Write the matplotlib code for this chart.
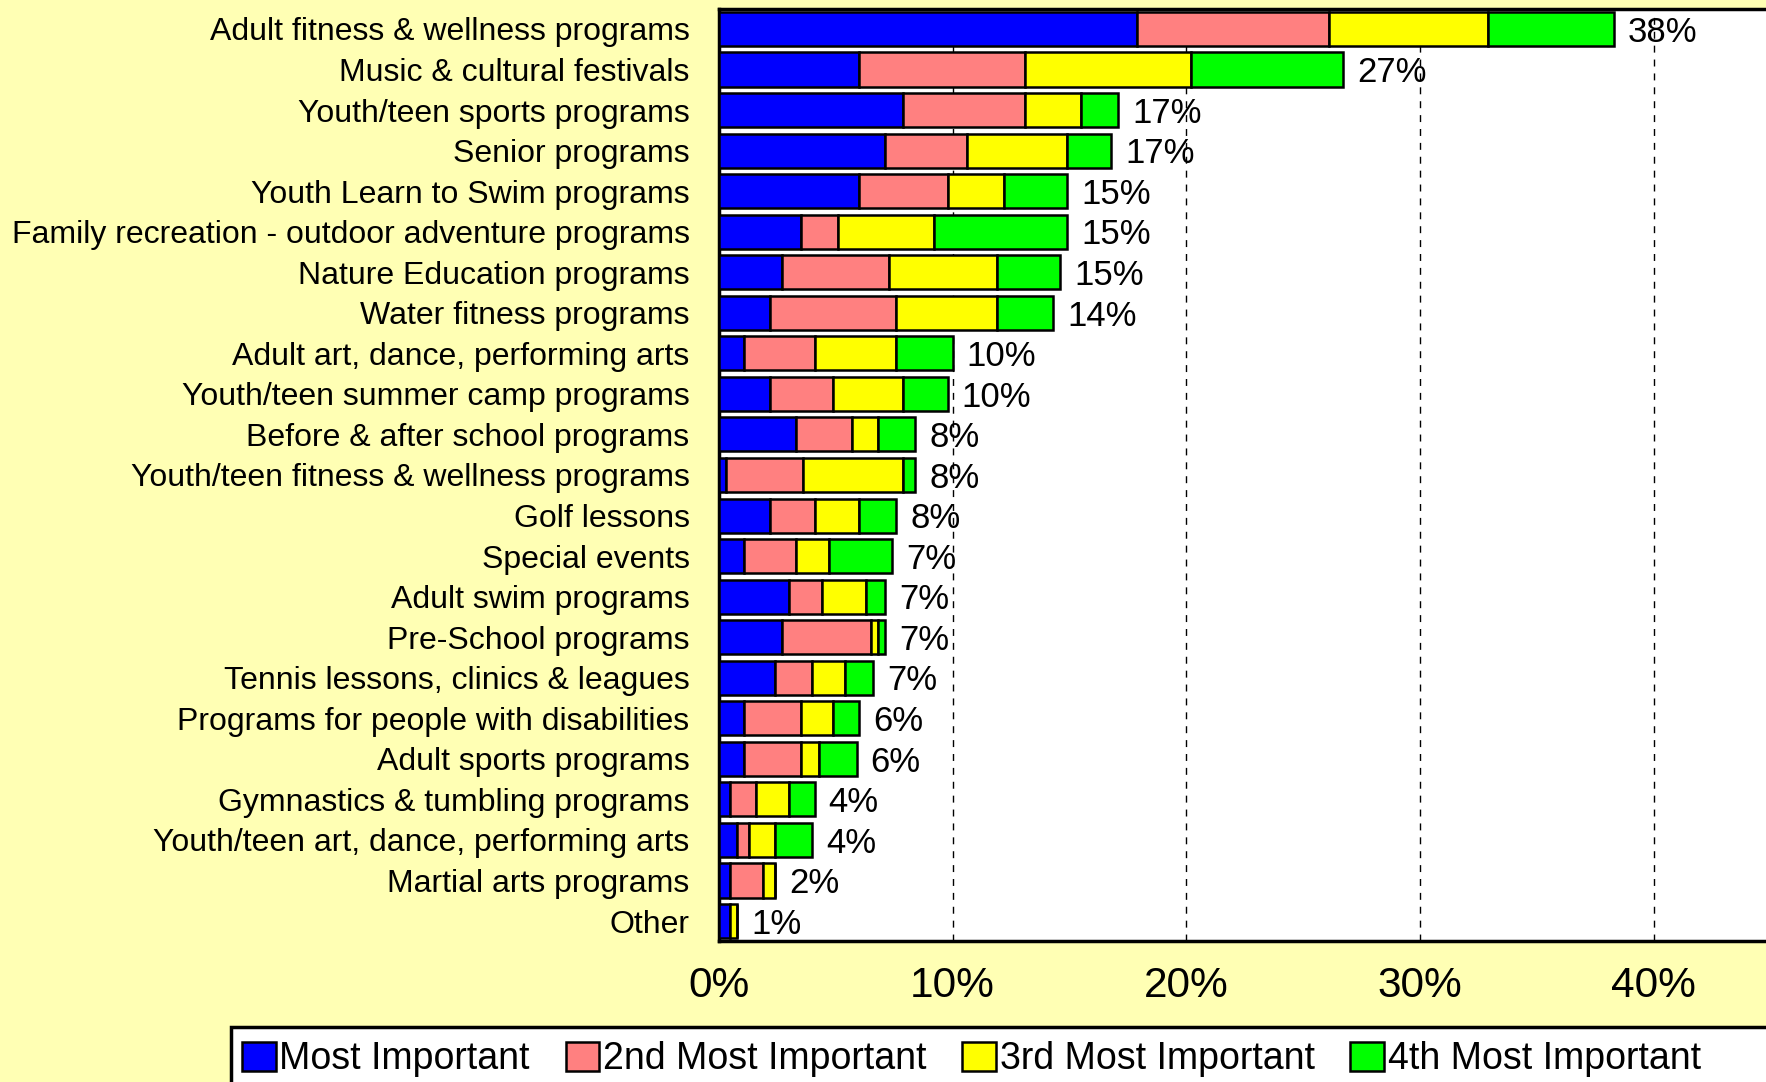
import numpy as np
import matplotlib.pyplot as plt
from matplotlib.patches import Rectangle

plt.rcParams['font.family'] = ['Liberation Sans', 'DejaVu Sans']

categories = [
    "Adult fitness & wellness programs",
    "Music & cultural festivals",
    "Youth/teen sports programs",
    "Senior programs",
    "Youth Learn to Swim programs",
    "Family recreation - outdoor adventure programs",
    "Nature Education programs",
    "Water fitness programs",
    "Adult art, dance, performing arts",
    "Youth/teen summer camp programs",
    "Before & after school programs",
    "Youth/teen fitness & wellness programs",
    "Golf lessons",
    "Special events",
    "Adult swim programs",
    "Pre-School programs",
    "Tennis lessons, clinics & leagues",
    "Programs for people with disabilities",
    "Adult sports programs",
    "Gymnastics & tumbling programs",
    "Youth/teen art, dance, performing arts",
    "Martial arts programs",
    "Other",
]
most = [17.9, 6.0, 7.9, 7.1, 6.0, 3.5, 2.7, 2.2, 1.1, 2.2, 3.3, 0.3, 2.2, 1.1, 3.0, 2.7, 2.4, 1.1, 1.1, 0.5, 0.8, 0.5, 0.5]
second = [8.2, 7.1, 5.2, 3.5, 3.8, 1.6, 4.6, 5.4, 3.0, 2.7, 2.4, 3.3, 1.9, 2.2, 1.4, 3.8, 1.6, 2.4, 2.4, 1.1, 0.5, 1.4, 0.0]
third = [6.8, 7.1, 2.4, 4.3, 2.4, 4.1, 4.6, 4.3, 3.5, 3.0, 1.1, 4.3, 1.9, 1.4, 1.9, 0.3, 1.4, 1.4, 0.8, 1.4, 1.1, 0.5, 0.3]
fourth = [5.4, 6.5, 1.6, 1.9, 2.7, 5.7, 2.7, 2.4, 2.4, 1.9, 1.6, 0.5, 1.6, 2.7, 0.8, 0.3, 1.2, 1.1, 1.6, 1.1, 1.6, 0.0, 0.0]

series_names = ["Most Important", "2nd Most Important", "3rd Most Important", "4th Most Important"]
series_colors = ["#0000ff", "#ff8080", "#ffff00", "#00ff00"]
xticks = [0, 10, 20, 30, 40]

bg = "#ffffb4"
fig = plt.figure(figsize=(17.66, 10.82), dpi=100, facecolor=bg)
ax = fig.add_axes([0.407, 0.130, 0.593, 0.862])
ax.set_facecolor("white")

y = np.arange(len(categories))
left = np.zeros(len(categories))
for vals, name, col in zip([most, second, third, fourth], series_names, series_colors):
    vals = np.array(vals)
    ax.barh(y, vals, left=left, height=0.84, color=col, edgecolor="black",
            linewidth=1.8, label=name, zorder=3)
    left = left + vals

for yi, tot in zip(y, left):
    ax.text(tot + 0.6, yi + 0.08, f"{tot:.0f}%", va="center", ha="left", fontsize=25, zorder=4)

ax.set_ylim(len(categories) - 0.5, -0.5)
ax.set_xlim(0, 44.8)
ax.set_yticks(y)
ax.set_yticklabels(categories, fontsize=23)
ax.set_xticks(xticks)
ax.set_xticklabels([f"{t}%" for t in xticks], fontsize=30.5)
ax.tick_params(axis="y", length=0, pad=21)
ax.tick_params(axis="x", length=0, pad=18)

ax.xaxis.grid(True, linestyle=(0, (5, 5)), color="black", linewidth=1)
ax.set_axisbelow(True)

for s in ["left", "bottom", "top"]:
    ax.spines[s].set_linewidth(2.5)
    ax.spines[s].set_color("black")
ax.spines["right"].set_visible(False)

# legend box running off the bottom-right edge
fig.patches.append(Rectangle((0.131, -0.05), 1.0, 0.1008, transform=fig.transFigure,
                             facecolor="white", edgecolor="black", linewidth=2.5, zorder=1))
handles, labels = ax.get_legend_handles_labels()
fig.legend(handles, labels, loc="center left", bbox_to_anchor=(0.1285, 0.021), ncol=4,
           frameon=False, fontsize=27, handlelength=0.9, handleheight=0.8,
           handletextpad=0.1, columnspacing=0.95, borderaxespad=0)

fig.savefig("out.png", dpi=100, facecolor=bg)
